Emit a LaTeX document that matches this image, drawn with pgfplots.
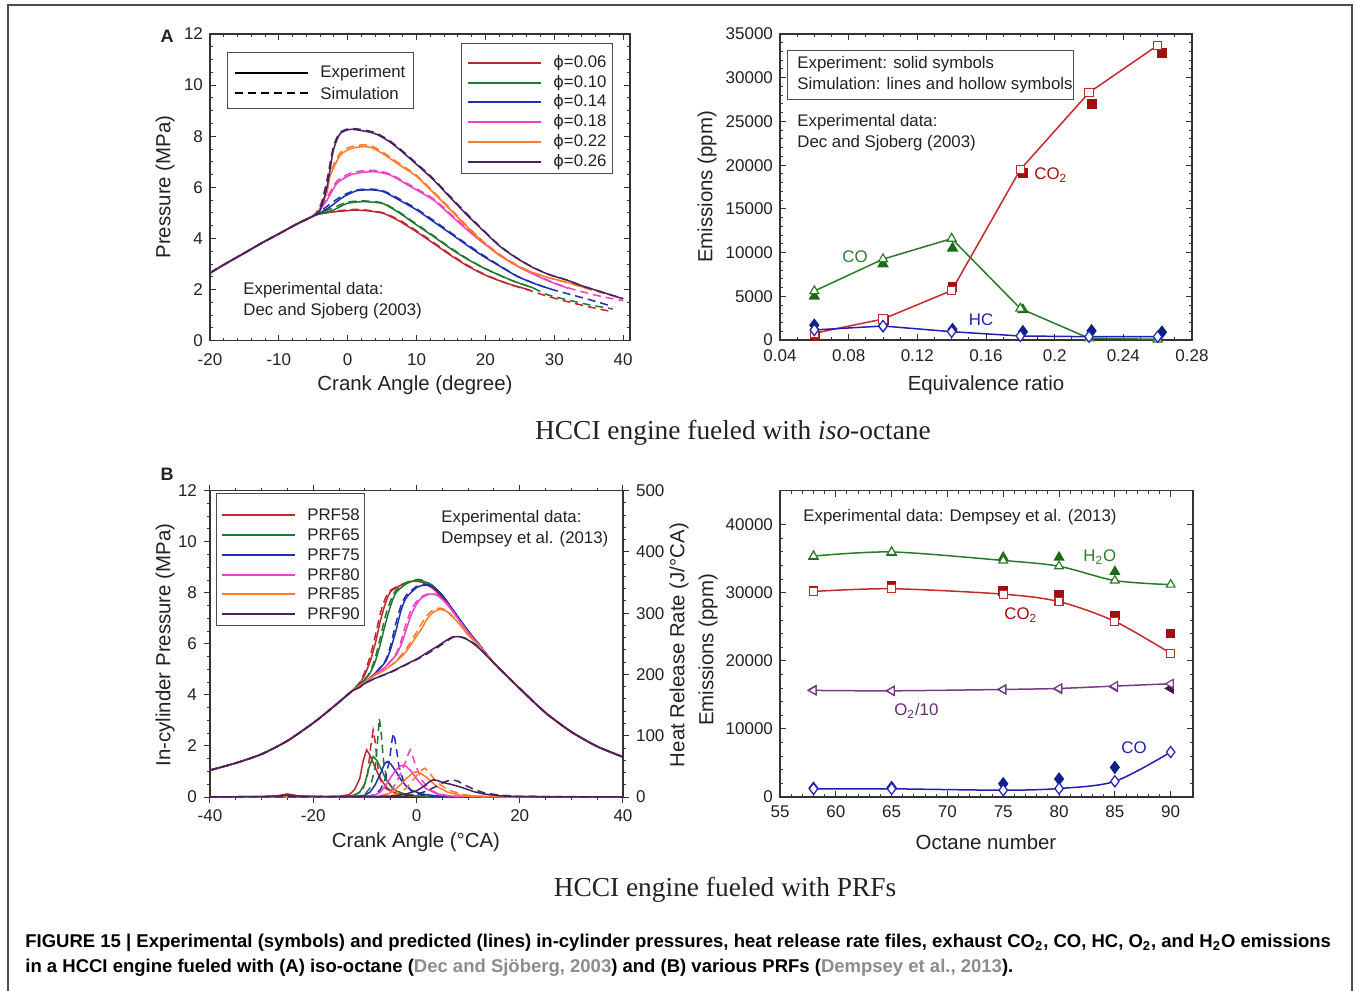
\documentclass[border=0pt]{standalone}
\usepackage{pgfplots}
\pgfplotsset{compat=1.18}
\usepackage{fontspec}
\setmainfont{Liberation Sans}
\newfontfamily\tnr{Liberation Serif}
\newfontfamily\dv{DejaVu Sans}
\definecolor{cR}{HTML}{C0282D}
\definecolor{cG}{HTML}{1E7A2E}
\definecolor{cB}{HTML}{2030B0}
\definecolor{cM}{HTML}{F040C8}
\definecolor{cO}{HTML}{FF7A2A}
\definecolor{cP}{HTML}{4B2060}
\definecolor{eR}{HTML}{C8282A}
\definecolor{eRd}{HTML}{A01010}
\definecolor{eG}{HTML}{2A7A2A}
\definecolor{eGd}{HTML}{1A6A1A}
\definecolor{eB}{HTML}{2020B8}
\definecolor{eBd}{HTML}{10208A}
\definecolor{eP}{HTML}{7A3A8A}
\definecolor{ePd}{HTML}{3A1A4A}
\definecolor{txt}{HTML}{222222}
\pgfplotsset{
  base/.style={scale only axis, axis line style={black!80, line width=0.6pt},
    tick style={black!80, line width=0.5pt}, major tick length=3pt, minor tick length=1.6pt,
    tick label style={font=\fontsize{8.5}{10}\selectfont, text=txt},
    /pgf/number format/assume math mode=true, scaled ticks=false,
    /pgf/number format/1000 sep={}, every axis plot/.append style={line width=0.75pt}},
  sim/.style={dash pattern=on 4pt off 2.5pt},
}
\newcommand{\fs}{\fontsize{8.4}{10}\selectfont}
\begin{document}
\begin{tikzpicture}
\begin{scope}[x=0.5pt,y=-0.5pt]
\path[use as bounding box, fill=white] (0,0) rectangle (1356,991);
\draw[black!70, line width=0.6pt] (8,995) -- (8,5) -- (1352,5) -- (1352,995);
\end{scope}

% ================= A1 =================
\begin{axis}[base, at={(105pt,-170.35pt)}, anchor=south west, width=210pt, height=153.35pt,
  xmin=-20, xmax=41, ymin=0, ymax=12, xtick={-20,-10,...,40}, ytick={0,2,...,12},
  minor x tick num=4, minor y tick num=3, xticklabel style={yshift=-3pt}]
\addplot[cR, smooth, tension=0.4] coordinates {(-20,2.65) (-17.5,3.05) (-15,3.43) (-12.5,3.82) (-10,4.18) (-7.5,4.55) (-5,4.88) (-4,4.96) (-2,5.04) (0,5.09) (1.3,5.11) (3,5.08) (5.2,4.98) (7.5,4.68) (10,4.26) (12.5,3.8) (14.9,3.35) (17.3,2.94) (19.7,2.6) (22,2.35) (24,2.17) (26.5,1.98)};
\addplot[cR, sim, smooth, tension=0.4] coordinates {(-20,2.65) (-17.5,3.05) (-15,3.43) (-12.5,3.82) (-10,4.18) (-7.5,4.55) (-5,4.88) (-4,4.97) (-2,5.06) (0,5.12) (1.5,5.14) (3,5.1) (5.2,5.0) (7.5,4.72) (10,4.3) (12.5,3.84) (14.9,3.38) (17.3,2.97) (19.7,2.62) (22,2.36) (24,2.16) (26.5,1.96) (29,1.74) (31.9,1.53) (34.8,1.34) (38.5,1.13)};
\addplot[cG, smooth, tension=0.4] coordinates {(-20,2.65) (-17.5,3.05) (-15,3.43) (-12.5,3.82) (-10,4.18) (-7.5,4.55) (-5,4.88) (-4,4.97) (-2.07,5.11) (-0.13,5.37) (2.05,5.44) (3.5,5.42) (5.2,5.36) (7.5,5.0) (10,4.53) (12.5,4.07) (14.9,3.61) (17.3,3.2) (19.7,2.85) (22,2.57) (24,2.34) (27,2.06)};
\addplot[cG, sim, smooth, tension=0.4] coordinates {(-20,2.65) (-17.5,3.05) (-15,3.43) (-12.5,3.82) (-10,4.18) (-7.5,4.55) (-5,4.88) (-4,5.0) (-2.07,5.2) (-0.13,5.42) (2.05,5.47) (3.5,5.45) (5.2,5.38) (7.5,5.03) (10,4.56) (12.5,4.1) (14.9,3.64) (17.3,3.22) (19.7,2.86) (22,2.57) (24,2.34) (27,2.05) (29,1.8) (31.9,1.6) (34.8,1.42) (38.5,1.24)};
\addplot[cB, smooth, tension=0.4] coordinates {(-20,2.65) (-17.5,3.05) (-15,3.43) (-12.5,3.82) (-10,4.18) (-7.5,4.55) (-5,4.88) (-4,5.0) (-2.55,5.24) (-0.6,5.63) (1.35,5.87) (3.5,5.9) (5.2,5.83) (7.5,5.5) (10.05,5.11) (12.5,4.65) (14.9,4.2) (17.3,3.74) (19.7,3.3) (22,2.93) (24.6,2.52) (27,2.25) (29.5,2.02)};
\addplot[cB, sim, smooth, tension=0.4] coordinates {(-20,2.65) (-17.5,3.05) (-15,3.43) (-12.5,3.82) (-10,4.18) (-7.5,4.55) (-5,4.88) (-4,5.05) (-2.55,5.35) (-0.6,5.7) (1.35,5.9) (3.5,5.93) (5.2,5.86) (7.5,5.55) (10.05,5.15) (12.5,4.7) (14.9,4.24) (17.3,3.78) (19.7,3.34) (22,2.95) (24.6,2.53) (27,2.25) (29.5,2.02) (31.9,1.84) (35.2,1.6) (38.5,1.34)};
\addplot[cM, smooth, tension=0.4] coordinates {(-20,2.65) (-17.5,3.05) (-15,3.43) (-12.5,3.82) (-10,4.18) (-7.5,4.55) (-5,4.88) (-4,5.15) (-3,5.5) (-1.55,6.16) (0.35,6.48) (2,6.58) (4,6.61) (6.17,6.48) (9,6.05) (12.47,5.5) (14.9,4.92) (17.3,4.35) (19.7,3.82) (22.2,3.32) (24.6,2.92) (27,2.6) (29.5,2.3) (32,2.05)};
\addplot[cM, sim, smooth, tension=0.4] coordinates {(-20,2.65) (-17.5,3.05) (-15,3.43) (-12.5,3.82) (-10,4.18) (-7.5,4.55) (-5,4.88) (-4,5.2) (-3,5.6) (-1.55,6.25) (0.35,6.55) (2,6.64) (4,6.66) (6.17,6.52) (9,6.1) (12.47,5.55) (14.9,4.97) (17.3,4.4) (19.7,3.86) (22.2,3.35) (24.6,2.95) (27,2.62) (29.5,2.32) (32,2.07) (35.7,1.8) (40,1.56)};
\addplot[cO, smooth, tension=0.4] coordinates {(-20,2.65) (-17.5,3.05) (-15,3.43) (-12.5,3.82) (-10,4.18) (-7.5,4.55) (-5,4.88) (-4,5.2) (-3,5.8) (-2.55,6.45) (-1.1,7.25) (0.35,7.5) (2.05,7.59) (3.5,7.55) (5.2,7.3) (7.5,6.88) (10.05,6.42) (12.5,5.78) (14.9,5.13) (17.3,4.47) (19.7,3.85) (22,3.35) (24.6,2.93) (27,2.65) (29.4,2.45) (31.9,2.28) (35,2.03)};
\addplot[cO, sim, smooth, tension=0.4] coordinates {(-20,2.65) (-17.5,3.05) (-15,3.43) (-12.5,3.82) (-10,4.18) (-7.5,4.55) (-5,4.88) (-4,5.3) (-3,6.0) (-2.55,6.6) (-1.1,7.35) (0.35,7.58) (2.05,7.66) (3.5,7.62) (5.2,7.36) (7.5,6.93) (10.05,6.46) (12.5,5.82) (14.9,5.17) (17.3,4.5) (19.7,3.88) (22,3.37) (24.6,2.95) (27,2.66) (29.4,2.45) (31.9,2.27) (35,2.02) (38,1.8) (40,1.66)};
\addplot[cP, smooth, tension=0.4] coordinates {(-20,2.65) (-17.5,3.05) (-15,3.43) (-12.5,3.82) (-10,4.18) (-7.5,4.55) (-5,4.88) (-4,5.1) (-3,6.02) (-2.07,7.46) (-1.1,8.1) (0.35,8.27) (2,8.22) (4,8.1) (6,7.8) (7.62,7.46) (10,6.9) (12.47,6.29) (14.9,5.6) (17.32,4.92) (19.7,4.3) (22.16,3.68) (24.6,3.22) (27,2.85) (29.4,2.57) (31.86,2.37) (34,2.15) (36.7,1.92) (40,1.64)};
\addplot[cP, sim, smooth, tension=0.4] coordinates {(-20,2.65) (-17.5,3.05) (-15,3.43) (-12.5,3.82) (-10,4.18) (-7.5,4.55) (-5,4.88) (-4,5.2) (-3,6.3) (-2.07,7.6) (-1.1,8.15) (0.35,8.3) (2,8.26) (4,8.14) (6,7.84) (7.62,7.5) (10,6.94) (12.47,6.33) (14.9,5.64) (17.32,4.96) (19.7,4.33) (22.16,3.7) (24.6,3.23) (27,2.86) (29.4,2.58) (31.86,2.37) (34,2.15) (36.7,1.92) (40,1.64)};
\end{axis}

% ================= A2 =================
\begin{axis}[base, at={(390pt,-170pt)}, anchor=south west, width=206pt, height=153pt,
  xmin=0.04, xmax=0.28, ymin=0, ymax=35000, xtick={0.04,0.08,0.12,0.16,0.2,0.24,0.28},
  ytick={0,5000,...,35000}, minor x tick num=3, minor y tick num=4,
  xticklabel style={/pgf/number format/fixed, /pgf/number format/precision=2, yshift=-1.5pt},
  yticklabel style={/pgf/number format/fixed}]
\addplot[eRd, only marks, mark=square*, mark size=2.1pt] coordinates {(0.0605,460) (0.1005,2300) (0.1405,6100) (0.1815,19100) (0.2215,27000) (0.2625,32800)};
\addplot[eGd, only marks, mark=triangle*, mark size=2.6pt] coordinates {(0.06,5000) (0.10,8700) (0.1405,10500) (0.1815,3450)};
\addplot[eBd, only marks, mark=diamond*, mark size=2.8pt] coordinates {(0.06,1700) (0.10,1600) (0.1405,1200) (0.1815,950) (0.2215,1050) (0.2625,900)};
\addplot[eR, mark=square*, mark size=2.1pt, mark options={fill=white, draw=eR, line width=0.6pt}] coordinates {(0.06,770) (0.10,2400) (0.14,5660) (0.18,19500) (0.22,28300) (0.26,33700)};
\addplot[eG, mark=triangle*, mark size=2.6pt, mark options={fill=white, draw=eG, line width=0.6pt}] coordinates {(0.06,5600) (0.10,9250) (0.14,11600) (0.18,3600) (0.22,200) (0.26,80)};
\addplot[eB, mark=diamond*, mark size=2.8pt, mark options={fill=white, draw=eB, line width=0.6pt}] coordinates {(0.06,1150) (0.10,1600) (0.14,950) (0.18,460) (0.22,380) (0.26,380)};
\end{axis}

% ================= B1 =================
\begin{axis}[base, at={(105pt,-398.5pt)}, anchor=south west, width=206.5pt, height=153.15pt,
  xmin=-40, xmax=40, ymin=0, ymax=12, xtick={-40,-20,...,40}, ytick={0,2,...,12},
  minor x tick num=3, minor y tick num=3, ytick pos=left, tick align=outside]
\addplot[cR, smooth, tension=0.4] coordinates {(-40,1.05) (-35,1.33) (-30,1.68) (-25,2.2) (-20,2.9) (-17.5,3.3) (-15,3.72) (-12.5,4.15) (-11,4.45) (-10,4.8) (-9,5.3) (-8,6.0) (-7,6.9) (-6,7.6) (-5,8.05) (-3,8.3) (-1,8.45) (0,8.45) (1,8.42) (3,8.2) (5,7.8) (7.5,7.15) (10,6.5) (12,6.0) (15,5.25) (20,4.25) (25,3.3) (30,2.55) (35,1.98) (40,1.57)};
\addplot[cR, sim, smooth, tension=0.4] coordinates {(-40,1.05) (-35,1.33) (-30,1.68) (-25,2.2) (-20,2.9) (-17.5,3.3) (-15,3.72) (-12.5,4.15) (-11,4.5) (-10,4.9) (-9,5.5) (-8,6.3) (-7,7.2) (-6,7.8) (-5,8.1) (-3,8.32) (-1,8.45) (0,8.45) (1,8.42) (3,8.2) (5,7.8) (7.5,7.15) (10,6.5) (12,6.0) (15,5.25) (20,4.25) (25,3.3) (30,2.55) (35,1.98) (40,1.57)};
\addplot[cG, smooth, tension=0.4] coordinates {(-40,1.05) (-35,1.33) (-30,1.68) (-25,2.2) (-20,2.9) (-17.5,3.3) (-15,3.72) (-12.5,4.15) (-11,4.4) (-10,4.6) (-9,4.85) (-8,5.3) (-7,6.0) (-6,6.8) (-5,7.5) (-4,8.0) (-2,8.35) (0,8.5) (1,8.48) (3,8.3) (5,7.9) (7.5,7.2) (10,6.5) (12,6.0) (15,5.25) (20,4.25) (25,3.3) (30,2.55) (35,1.98) (40,1.57)};
\addplot[cG, sim, smooth, tension=0.4] coordinates {(-40,1.05) (-35,1.33) (-30,1.68) (-25,2.2) (-20,2.9) (-17.5,3.3) (-15,3.72) (-12.5,4.15) (-11,4.4) (-10,4.62) (-9,4.9) (-8,5.45) (-7,6.25) (-6,7.1) (-5,7.7) (-4,8.1) (-2,8.4) (0,8.52) (1,8.5) (3,8.3) (5,7.9) (7.5,7.2) (10,6.5) (12,6.0) (15,5.25) (20,4.25) (25,3.3) (30,2.55) (35,1.98) (40,1.57)};
\addplot[cB, smooth, tension=0.4] coordinates {(-40,1.05) (-35,1.33) (-30,1.68) (-25,2.2) (-20,2.9) (-17.5,3.3) (-15,3.72) (-12.5,4.15) (-11,4.35) (-10,4.5) (-8,4.85) (-6,5.3) (-5,5.8) (-4,6.5) (-3,7.3) (-2,7.8) (0,8.2) (1.5,8.3) (3,8.25) (5,7.9) (7.5,7.2) (10,6.5) (12,6.0) (15,5.25) (20,4.25) (25,3.3) (30,2.55) (35,1.98) (40,1.57)};
\addplot[cB, sim, smooth, tension=0.4] coordinates {(-40,1.05) (-35,1.33) (-30,1.68) (-25,2.2) (-20,2.9) (-17.5,3.3) (-15,3.72) (-12.5,4.15) (-11,4.35) (-10,4.5) (-8,4.85) (-6,5.35) (-5,5.95) (-4,6.8) (-3,7.5) (-2,7.9) (0,8.25) (1.5,8.33) (3,8.27) (5,7.9) (7.5,7.2) (10,6.5) (12,6.0) (15,5.25) (20,4.25) (25,3.3) (30,2.55) (35,1.98) (40,1.57)};
\addplot[cM, smooth, tension=0.4] coordinates {(-40,1.05) (-35,1.33) (-30,1.68) (-25,2.2) (-20,2.9) (-17.5,3.3) (-15,3.72) (-12.5,4.15) (-11,4.35) (-10,4.5) (-8,4.8) (-6,5.1) (-4,5.55) (-3,5.95) (-2,6.55) (-1,7.15) (0,7.55) (1,7.8) (2.5,7.95) (4,7.9) (6,7.55) (8,7.0) (10,6.45) (12,5.98) (15,5.25) (20,4.25) (25,3.3) (30,2.55) (35,1.98) (40,1.57)};
\addplot[cM, sim, smooth, tension=0.4] coordinates {(-40,1.05) (-35,1.33) (-30,1.68) (-25,2.2) (-20,2.9) (-17.5,3.3) (-15,3.72) (-12.5,4.15) (-11,4.35) (-10,4.5) (-8,4.8) (-6,5.1) (-4,5.6) (-3,6.1) (-2,6.8) (-1,7.35) (0,7.65) (1,7.85) (2.5,7.97) (4,7.92) (6,7.55) (8,7.0) (10,6.45) (12,5.98) (15,5.25) (20,4.25) (25,3.3) (30,2.55) (35,1.98) (40,1.57)};
\addplot[cO, smooth, tension=0.4] coordinates {(-40,1.05) (-35,1.33) (-30,1.68) (-25,2.2) (-20,2.9) (-17.5,3.3) (-15,3.72) (-12.5,4.15) (-11,4.35) (-10,4.5) (-8,4.78) (-6,5.0) (-4,5.3) (-2,5.7) (0,6.3) (1,6.6) (2,6.95) (3,7.2) (4.5,7.35) (6,7.25) (8,6.85) (10,6.35) (12,5.95) (15,5.25) (20,4.25) (25,3.3) (30,2.55) (35,1.98) (40,1.57)};
\addplot[cO, sim, smooth, tension=0.4] coordinates {(-40,1.05) (-35,1.33) (-30,1.68) (-25,2.2) (-20,2.9) (-17.5,3.3) (-15,3.72) (-12.5,4.15) (-11,4.35) (-10,4.5) (-8,4.78) (-6,5.0) (-4,5.32) (-2,5.8) (0,6.45) (1,6.8) (2,7.1) (3,7.3) (4.5,7.4) (6,7.28) (8,6.87) (10,6.36) (12,5.95) (15,5.25) (20,4.25) (25,3.3) (30,2.55) (35,1.98) (40,1.57)};
\addplot[cP, smooth, tension=0.4] coordinates {(-40,1.05) (-35,1.33) (-30,1.68) (-25,2.2) (-20,2.9) (-17.5,3.3) (-15,3.72) (-12.5,4.15) (-11,4.3) (-10,4.45) (-8,4.65) (-5,4.9) (-2,5.2) (0,5.4) (2,5.65) (4,5.9) (5.5,6.1) (7,6.27) (8.5,6.27) (10,6.15) (12,5.85) (15,5.25) (20,4.25) (25,3.3) (30,2.55) (35,1.98) (40,1.57)};
\addplot[cP, sim, smooth, tension=0.4] coordinates {(-40,1.05) (-35,1.33) (-30,1.68) (-25,2.2) (-20,2.9) (-17.5,3.3) (-15,3.72) (-12.5,4.15) (-11,4.3) (-10,4.45) (-8,4.65) (-5,4.88) (-2,5.18) (0,5.38) (2,5.6) (4,5.85) (5.5,6.05) (7,6.25) (8.5,6.28) (10,6.17) (12,5.87) (15,5.25) (20,4.25) (25,3.3) (30,2.55) (35,1.98) (40,1.57)};
\end{axis}
\begin{axis}[base, at={(105pt,-398.5pt)}, anchor=south west, width=206.5pt, height=153.15pt,
  xmin=-40, xmax=40, ymin=0, ymax=500, axis x line=none, axis y line*=right,
  ytick={0,100,...,500}, minor y tick num=4, tick align=outside]
\addplot[cR] coordinates {(-40,0) (-30,0.5) (-27,2) (-25,5) (-23,2) (-20,0.5) (-15,1) (-13,4) (-12,12) (-11,30) (-10.3,60) (-9.65,77) (-9,68) (-8,48) (-7,30) (-6,18) (-5,10) (-4,6) (-2,3) (0,1) (5,0) (40,0)};
\addplot[cR, sim] coordinates {(-40,0) (-27,1) (-25,4) (-23,1) (-14,0.5) (-12,3) (-10.5,10) (-9.5,35) (-8.9,80) (-8.4,109) (-8.0,90) (-7.5,50) (-7,28) (-6,14) (-4,6) (-2,2) (0,0.5) (40,0)};
\addplot[cG] coordinates {(-40,0) (-27,1) (-25,3) (-23,1) (-14,0.5) (-12,3) (-11,8) (-10,22) (-9.2,48) (-8.4,66) (-7.7,60) (-6.8,45) (-6,30) (-5,18) (-4,10) (-2,4) (1,1) (40,0)};
\addplot[cG, sim] coordinates {(-40,0) (-12,0.5) (-10,4) (-9,15) (-8,48) (-7.5,95) (-7.2,128) (-6.9,110) (-6.4,60) (-5.8,30) (-4.5,12) (-2,3) (1,0.5) (40,0)};
\addplot[cB] coordinates {(-40,0) (-12,0.5) (-10,3) (-9,8) (-8,20) (-7,38) (-6.2,54) (-5.7,58) (-5,54) (-4,42) (-3,28) (-2,18) (-1,11) (1,5) (4,1.5) (8,0) (40,0)};
\addplot[cB, sim] coordinates {(-40,0) (-10,0.5) (-8,4) (-7,12) (-6,30) (-5.2,62) (-4.7,95) (-4.4,104) (-4.0,85) (-3.4,50) (-2.5,25) (-1,10) (1,3) (4,0.5) (40,0)};
\addplot[cM] coordinates {(-40,0) (-10,0.5) (-8,3) (-7,8) (-6,18) (-5,32) (-4,44) (-3,51) (-2.5,52) (-2,50) (-1,42) (0,30) (1,20) (2,13) (4,5) (7,1) (40,0)};
\addplot[cM, sim] coordinates {(-40,0) (-8,0.5) (-6,4) (-5,10) (-4,22) (-3,40) (-2,60) (-1.5,72) (-1.2,77) (-0.8,68) (0,48) (1,28) (2.5,12) (5,3) (8,0.5) (40,0)};
\addplot[cO] coordinates {(-40,0) (-8,0.5) (-6,3) (-5,7) (-4,13) (-3,21) (-2,30) (-1,37) (-0.5,40) (0,41) (0.7,39) (2,32) (3,24) (4,17) (6,8) (9,2) (12,0.5) (40,0)};
\addplot[cO, sim] coordinates {(-40,0) (-6,0.5) (-4,4) (-2,14) (-1,24) (0,35) (1,44) (1.6,47) (2.2,43) (3,34) (4,24) (6,12) (9,4) (12,1) (40,0)};
\addplot[cP] coordinates {(-40,0) (-27,1) (-25,3) (-23,1) (-8,0.5) (-4,2) (-2,5) (0,10) (1.5,18) (2.5,25) (3.2,28) (4,27) (5,24) (7,20) (9,15) (11,9) (13,5) (16,2) (20,0.5) (40,0)};
\addplot[cP, sim] coordinates {(-40,0) (-4,0.5) (0,4) (2,10) (4,18) (5.5,25) (6.8,28) (8,26) (9,21) (11,13) (13,7) (16,3) (20,1) (40,0)};
\end{axis}

% ================= B2 =================
\begin{axis}[base, at={(390pt,-398.5pt)}, anchor=south west, width=206.5pt, height=153.15pt,
  xmin=55, xmax=92, ymin=0, ymax=45000, xtick={55,60,...,90}, ytick={0,10000,...,40000},
  minor x tick num=4, minor y tick num=4, yticklabel style={/pgf/number format/fixed},
  xticklabel style={yshift=-1pt}]
\addplot[eGd, only marks, mark=triangle*, mark size=2.5pt] coordinates {(58,35300) (65,35900) (75,35200) (80,35200) (85,33100)};
\addplot[eRd, only marks, mark=square*, mark size=2pt] coordinates {(58,30300) (65,31000) (75,30250) (80,29700) (85,26700) (90,24000)};
\addplot[ePd, only marks, mark=triangle*, mark size=2.5pt, mark options={rotate=90}] coordinates {(58,15700) (65,15600) (75,15800) (80,15900) (85,16200) (90,15950)};
\addplot[eBd, only marks, mark=diamond*, mark size=2.8pt] coordinates {(58,1300) (65,1400) (75,1950) (80,2650) (85,4350)};
\addplot[eG, smooth, tension=0.5, mark=triangle*, mark size=2.5pt, mark options={fill=white, draw=eG, line width=0.6pt}] coordinates {(58,35400) (65,36000) (75,34750) (80,33900) (85,31800) (90,31200)};
\addplot[eR, smooth, tension=0.5, mark=square*, mark size=2pt, mark options={fill=white, draw=eR, line width=0.6pt}] coordinates {(58,30200) (65,30600) (75,29800) (80,28700) (85,25800) (90,21100)};
\addplot[eP, smooth, tension=0.5, mark=triangle*, mark size=2.5pt, mark options={fill=white, draw=eP, line width=0.6pt, rotate=90}] coordinates {(58,15660) (65,15600) (75,15800) (80,15950) (85,16300) (90,16640)};
\addplot[eB, smooth, tension=0.5, mark=diamond*, mark size=2.8pt, mark options={fill=white, draw=eB, line width=0.6pt}] coordinates {(58,1200) (65,1200) (75,1000) (80,1250) (85,2300) (90,6600)};
\end{axis}

% ================= texts (pixel coordinates) =================
\begin{scope}[x=0.5pt,y=-0.5pt, every node/.style={text=txt, inner sep=0pt}]
\node[font=\fontsize{9}{10}\bfseries\selectfont] at (167,36) {A};
\node[font=\fontsize{9}{10}\bfseries\selectfont] at (167,474) {B};
% axis labels
\node[font=\fontsize{10.2}{12}\selectfont] at (415,385) {Crank Angle (degree)};
\node[font=\fontsize{10.2}{12}\selectfont] at (986,385) {Equivalence ratio};
\node[font=\fontsize{10.2}{12}\selectfont] at (416,842) {Crank Angle (°CA)};
\node[font=\fontsize{10.2}{12}\selectfont] at (986,842) {Octane number};
\node[font=\fontsize{10.2}{12}\selectfont, rotate=90] at (165,187) {Pressure (MPa)};
\node[font=\fontsize{10.2}{12}\selectfont, rotate=90] at (707,187) {Emissions (ppm)};
\node[font=\fontsize{10.2}{12}\selectfont, rotate=90] at (165,645) {In-cylinder Pressure (MPa)};
\node[font=\fontsize{10.2}{12}\selectfont, rotate=90] at (679,645) {Heat Release Rate (J/°CA)};
\node[font=\fontsize{10.2}{12}\selectfont, rotate=90] at (708,650) {Emissions (ppm)};
% A1 legends
\draw[black!70, line width=0.5pt, fill=white] (227,52) rectangle (413,108);
\draw[black, line width=0.9pt] (235,73) -- (308,73);
\draw[black, line width=0.9pt, dash pattern=on 4pt off 2.5pt] (235,93) -- (308,93);
\node[anchor=west, font=\fs] at (320,73) {Experiment};
\node[anchor=west, font=\fs] at (320,93) {Simulation};
\draw[black!70, line width=0.5pt, fill=white] (461,43) rectangle (612,173);
\foreach \c/\t/\yy in {cR/0.06/63, cG/0.10/83, cB/0.14/102, cM/0.18/122, cO/0.22/142, cP/0.26/162}{
  \draw[\c, line width=0.9pt] (468,\yy) -- (541,\yy);
  \node[anchor=west, font=\fs] at (553,\yy) {{\dv\fontsize{8}{10}\selectfont ϕ}=\t};
}
\node[anchor=west, font=\fs] at (243,290) {Experimental data:};
\node[anchor=west, font=\fs] at (243,311) {Dec and Sjoberg (2003)};
% A2
\draw[black!70, line width=0.5pt, fill=white] (787,50) rectangle (1073,99);
\node[anchor=west, font=\fs] at (797,64) {Experiment: solid symbols};
\node[anchor=west, font=\fs] at (797,85) {Simulation: lines and hollow symbols};
\node[anchor=west, font=\fs] at (797,122) {Experimental data:};
\node[anchor=west, font=\fs] at (797,143) {Dec and Sjoberg (2003)};
\node[anchor=west, font=\fs, text=eRd] at (1034,175) {CO\textsubscript{2}};
\node[font=\fs, text=eG] at (855,257) {CO};
\node[font=\fs, text=eB] at (981,320) {HC};
% B1
\draw[black!70, line width=0.5pt, fill=white] (216,493) rectangle (364,625);
\foreach \c/\t/\yy in {cR/58/515, cG/65/535, cB/75/555, cM/80/575, cO/85/594, cP/90/614}{
  \draw[\c, line width=0.9pt] (222,\yy) -- (295,\yy);
  \node[anchor=west, font=\fs] at (307,\yy) {PRF\t};
}
\node[anchor=west, font=\fs] at (441,518) {Experimental data:};
\node[anchor=west, font=\fs] at (441,539) {Dempsey et al. (2013)};
% B2
\node[anchor=west, font=\fs] at (803,517) {Experimental data: Dempsey et al. (2013)};
\node[anchor=west, font=\fs, text=eG] at (1083,557) {H\textsubscript{2}O};
\node[anchor=west, font=\fs, text=eRd] at (1004,615) {CO\textsubscript{2}};
\node[anchor=west, font=\fs, text=eP!80!black] at (894,711) {O\textsubscript{2}/10};
\node[anchor=west, font=\fs, text=eB] at (1121,748) {CO};
% titles
\node[font=\tnr\fontsize{13.7}{16}\selectfont] at (733,433) {HCCI engine fueled with \textit{iso}-octane};
\node[font=\tnr\fontsize{13.7}{16}\selectfont] at (725,890) {HCCI engine fueled with PRFs};
% caption
\node[anchor=west, font=\fontsize{9.25}{11}\bfseries\selectfont, text=black] at (25,943) {FIGURE 15 | Experimental (symbols) and predicted (lines) in-cylinder pressures, heat release rate files, exhaust CO\textsubscript{2}, CO, HC, O\textsubscript{2}, and H\textsubscript{2}O emissions};
\node[anchor=west, font=\fontsize{9.25}{11}\bfseries\selectfont, text=black] at (25,968) {in a HCCI engine fueled with (A) iso-octane ({\color{black!45}Dec and Sjöberg, 2003}) and (B) various PRFs ({\color{black!45}Dempsey et al., 2013}).};
\end{scope}
\end{tikzpicture}
\end{document}
